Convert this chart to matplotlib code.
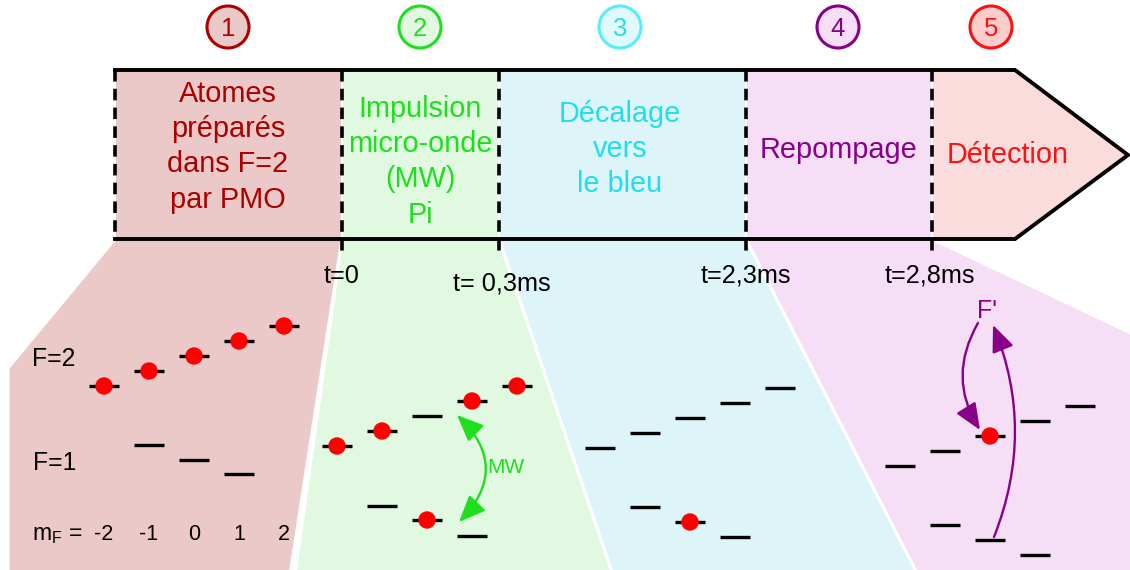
import matplotlib
matplotlib.use("Agg")
import matplotlib.pyplot as plt
from matplotlib.patches import Polygon, Circle, FancyArrowPatch, ArrowStyle

plt.rcParams['font.family'] = ['Liberation Sans', 'DejaVu Sans']
plt.rcParams['mathtext.fontset'] = 'custom'
plt.rcParams['mathtext.rm'] = 'Liberation Sans'
plt.rcParams['mathtext.it'] = 'Liberation Sans'

# ---------------- data ----------------
phase_numbers = ["1", "2", "3", "4", "5"]
phase_texts = [
    ["Atomes", "préparés", "dans F=2", "par PMO"],
    ["Impulsion", "micro-onde", "(MW)", "Pi"],
    ["Décalage", "vers", "le bleu"],
    ["Repompage"],
    ["Détection"],
]
time_labels = ["t=0", "t= 0,3ms", "t=2,3ms", "t=2,8ms"]
mF_values = ["-2", "-1", "0", "1", "2"]

# level heights (pixel rows) per panel
F2_levels = [
    [386, 371, 356, 341, 326],
    [446, 431, 416, 401, 386],
    [448, 433, 418, 403, 388],
    [466, 451, 436, 421, 406],
]
F1_levels = [
    [445, 460, 474],
    [506, 520, 536],
    [507, 522, 537],
    [525, 540, 555],
]
F2_pop = [
    [1, 1, 1, 1, 1],
    [1, 1, 0, 1, 1],
    [0, 0, 0, 0, 0],
    [0, 0, 1, 0, 0],
]
F1_pop = [
    [0, 0, 0],
    [0, 1, 0],
    [0, 1, 0],
    [0, 0, 0],
]

# ---------------- styles ----------------
fill_cols = ['#ECC9C9', '#E1F8E1', '#DDF5F8', '#F6DFF6', '#FADCDC']
text_cols = ['#AA0000', '#1EDF1E', '#22DDEE', '#880088', '#FF1010']
circ_edge = ['#AA0000', '#1EDF1E', '#55EEFF', '#880088', '#FF1010']
circ_fill = ['#ECC9C9', '#E1F8E1', '#E0FAFC', '#F6DFF6', '#FFCCCC']
circ_x = [228, 420, 620, 838, 991]
bounds = [115, 342, 499, 746, 932]
bar_top, bar_bot = 70, 239
arrow_x, tip_x, tip_y = 1015, 1128, 155
panel_x0 = [104, 337, 600, 900]
dx = 45

fig = plt.figure(figsize=(11.3, 5.7), dpi=100)
ax = fig.add_axes([0, 0, 1, 1])
ax.set_xlim(0, 1130)
ax.set_ylim(570, 0)
ax.axis('off')

# lower fans
lower_polys = [
    [(115, 239), (342, 239), (290, 575), (8, 575), (8, 368)],
    [(342, 239), (499, 239), (613, 575), (295, 575)],
    [(499, 239), (746, 239), (918, 575), (613, 575)],
    [(746, 239), (932, 239), (1135, 335), (1135, 575), (918, 575)],
]
for poly, c in zip(lower_polys, fill_cols):
    ax.add_patch(Polygon(poly, closed=True, facecolor=c, edgecolor='white',
                         lw=2.2, zorder=1))

# bar fills
for i in range(4):
    ax.add_patch(Polygon([(bounds[i], bar_top), (bounds[i + 1], bar_top),
                          (bounds[i + 1], bar_bot), (bounds[i], bar_bot)],
                         closed=True, facecolor=fill_cols[i], edgecolor='white',
                         lw=1.5, zorder=2))
ax.add_patch(Polygon([(bounds[4], bar_top), (arrow_x, bar_top), (tip_x, tip_y),
                      (arrow_x, bar_bot), (bounds[4], bar_bot)], closed=True,
                     facecolor=fill_cols[4], edgecolor='white', lw=1.5, zorder=2))

# bar outline
ax.plot([bounds[0], arrow_x, tip_x, arrow_x, bounds[0]],
        [bar_top, bar_top, tip_y, bar_bot, bar_bot],
        color='black', lw=2.8, solid_joinstyle='miter', zorder=4)
ax.plot([bounds[0], bounds[0]], [bar_top, bar_bot], color='black', lw=2.6,
        linestyle=(0, (3.2, 2)), zorder=4)
for xb in bounds[1:]:
    ax.plot([xb, xb], [bar_top, 255], color='black', lw=2.6,
            linestyle=(0, (3.2, 2)), zorder=4)

# phase texts
first_base = [102, 117, 122, 158, 163]
centers = [228, 420, 620, 838, 1008]
for i, lines in enumerate(phase_texts):
    for j, s in enumerate(lines):
        ax.text(centers[i], first_base[i] + j * 35.2, s, color=text_cols[i],
                fontsize=20.8, ha='center', va='baseline', zorder=5)

# numbered circles
for i, n in enumerate(phase_numbers):
    ax.add_patch(Circle((circ_x[i], 27), 21, facecolor=circ_fill[i],
                        edgecolor=circ_edge[i], lw=2.2, zorder=5))
    ax.text(circ_x[i], 36.5, n, color=circ_edge[i] if i != 2 else '#22DDEE',
            fontsize=18.5, ha='center', va='baseline', zorder=6)

# time labels
time_x = [342, 502, 746, 930]
time_base = [283, 290, 283, 283]
for s, x, y in zip(time_labels, time_x, time_base):
    ax.text(x, y, s, fontsize=18.2, ha='center', va='baseline', color='black',
            zorder=5)

# energy levels
hw = 15
for p in range(4):
    for k in range(5):
        x = panel_x0[p] + k * dx
        y = F2_levels[p][k]
        ax.plot([x - hw, x + hw], [y, y], color='black', lw=2.4,
                solid_capstyle='butt', zorder=6)
        if F2_pop[p][k]:
            ax.add_patch(Circle((x, y), 8, color='#FF0000', zorder=7))
    for k in range(3):
        x = panel_x0[p] + (k + 1) * dx
        y = F1_levels[p][k]
        ax.plot([x - hw, x + hw], [y, y], color='black', lw=2.4,
                solid_capstyle='butt', zorder=6)
        if F1_pop[p][k]:
            ax.add_patch(Circle((x, y), 8, color='#FF0000', zorder=7))

# labels of panel 1
ax.text(54, 366, "F=2", fontsize=17.8, ha='center', va='baseline')
ax.text(55, 470, "F=1", fontsize=17.8, ha='center', va='baseline')
ax.text(32, 540, r"m$_{\mathrm{F}}$ =", fontsize=16.5, ha='left', va='baseline')
for k, s in enumerate(mF_values):
    ax.text(panel_x0[0] + k * dx, 540, s, fontsize=15.5, ha='center',
            va='baseline')

# MW arrow
mw_style = ArrowStyle('<|-|>', head_length=1.3, head_width=0.55)
ax.add_patch(FancyArrowPatch((457, 415), (459, 522), arrowstyle=mw_style,
                             connectionstyle='arc3,rad=-0.5', mutation_scale=12.5,
                             color='#1EDF1E', lw=1.7, shrinkA=0, shrinkB=0,
                             zorder=8))
ax.text(487, 473, "MW", fontsize=15, color='#1EDF1E', ha='left',
        va='baseline', zorder=8)

# repumping arrows
rp_style = ArrowStyle('-|>', head_length=1.3, head_width=0.55)
ax.add_patch(FancyArrowPatch((978, 323), (980, 430), arrowstyle=rp_style,
                             connectionstyle='arc3,rad=0.3', mutation_scale=12.5,
                             color='#880088', lw=1.7, shrinkA=0, shrinkB=0,
                             zorder=8))
ax.add_patch(FancyArrowPatch((994, 537), (993, 325), arrowstyle=rp_style,
                             connectionstyle='arc3,rad=0.2', mutation_scale=12.5,
                             color='#880088', lw=1.7, shrinkA=0, shrinkB=0,
                             zorder=8))
ax.text(987, 318, "F'", fontsize=18, color='#880088', ha='center',
        va='baseline', zorder=8)

fig.savefig("out.png", dpi=100)
